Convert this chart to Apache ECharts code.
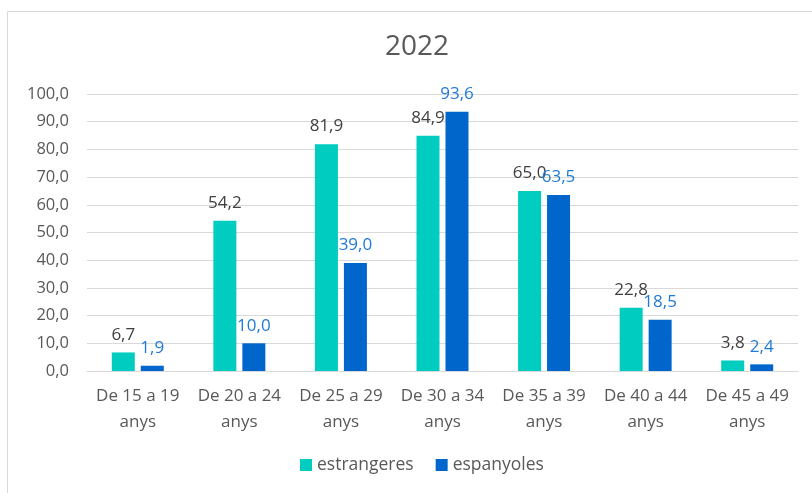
<!DOCTYPE html>
<html>
<head>
<meta charset="utf-8">
<script src="https://cdn.jsdelivr.net/npm/echarts@6/dist/echarts.min.js"></script>
<style>
  html, body { margin: 0; padding: 0; background: #fff; }
  #chart { width: 812px; height: 493px; }
</style>
</head>
<body>
<div id="chart"></div>
<script>
var categories = ['De 15 a 19\nanys', 'De 20 a 24\nanys', 'De 25 a 29\nanys', 'De 30 a 34\nanys', 'De 35 a 39\nanys', 'De 40 a 44\nanys', 'De 45 a 49\nanys'];
var estrangeres = [6.7, 54.2, 81.9, 84.9, 65.0, 22.8, 3.8];
var espanyoles = [1.9, 10.0, 39.0, 93.6, 63.5, 18.5, 2.4];

var fmt = function (v) { return v.toFixed(1).replace('.', ','); };
var font = '"Open Sans", sans-serif';

var chart = echarts.init(document.getElementById('chart'));
var option = {
  animation: false,
  textStyle: { fontFamily: font },
  title: {
    text: '2022',
    left: 380,
    top: 28,
    textStyle: { fontSize: 28, fontWeight: 'normal', color: '#595959', fontFamily: font }
  },
  graphic: [{
    type: 'rect',
    shape: { x: 7.5, y: 11.5, width: 820, height: 500 },
    style: { fill: 'none', stroke: '#d9d9d9', lineWidth: 1 }
  }],
  legend: {
    bottom: 14,
    left: 295,
    itemWidth: 12,
    itemHeight: 12,
    itemGap: 22,
    icon: 'rect',
    textStyle: { fontSize: 17.5, color: '#595959', fontFamily: font }
  },
  grid: { left: 87, right: 14, top: 94, bottom: 122 },
  xAxis: {
    type: 'category',
    data: categories,
    axisTick: { show: false },
    axisLine: { lineStyle: { color: '#d9d9d9' } },
    axisLabel: { fontSize: 17, color: '#595959', lineHeight: 26, margin: 12, interval: 0 }
  },
  yAxis: {
    type: 'value',
    min: 0,
    max: 100,
    interval: 10,
    axisLabel: { fontSize: 16.5, color: '#595959', margin: 18, formatter: function (v) { return fmt(v); } },
    splitLine: { lineStyle: { color: '#d9d9d9' } }
  },
  series: [{
    name: 'estrangeres',
    type: 'bar',
    data: estrangeres,
    barWidth: 23,
    barGap: '26%',
    itemStyle: { color: '#00CCC0' },
    label: { show: true, position: 'top', fontSize: 17, color: '#404040', distance: 9, formatter: function (p) { return fmt(p.value); } }
  }, {
    name: 'espanyoles',
    type: 'bar',
    data: espanyoles,
    barWidth: 23,
    itemStyle: { color: '#0066CC' },
    label: { show: true, position: 'top', fontSize: 17, color: '#1F7AD6', distance: 9, formatter: function (p) { return fmt(p.value); } }
  }]
};
chart.setOption(option);
</script>
</body>
</html>
